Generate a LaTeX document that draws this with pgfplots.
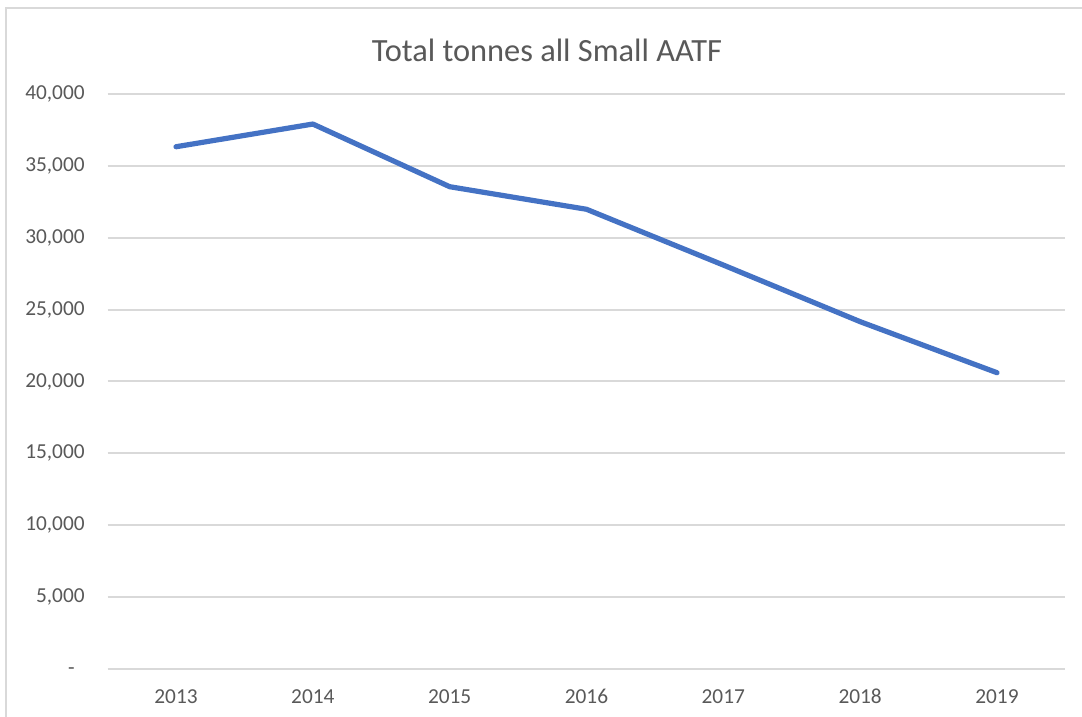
\documentclass[border=0pt]{standalone}
\usepackage{fontspec}
\setmainfont{Carlito}
\usepackage{pgfplots}
\pgfplotsset{compat=1.18}
\definecolor{gridgrey}{RGB}{217,217,217}
\definecolor{labelgrey}{RGB}{89,89,89}
\definecolor{xlblue}{RGB}{68,114,196}
\begin{document}
\begin{tikzpicture}[x=0.75pt,y=0.75pt]
\path[use as bounding box] (0,0) rectangle (1082,717);
\fill[white] (0,0) rectangle (1082,717);
\draw[gridgrey, line width=1.5pt] (6,0) -- (6,709) -- (1082,709);
\node[labelgrey, font=\fontsize{24.3pt}{28pt}\selectfont] at (547,667) {Total tonnes all Small AATF};
\begin{axis}[
  at={(80.7pt,36pt)}, anchor=south west,
  scale only axis,
  width=718.4pt, height=431.25pt,
  xmin=2012.5, xmax=2019.5,
  ymin=0, ymax=40000,
  scaled y ticks=false,
  axis line style={draw=none},
  xtick={2013,...,2019},
  xticklabels={2013,2014,2015,2016,2017,2018,2019},
  ytick={0,5000,...,40000},
  yticklabels={{-\kern7.5pt\strut},{5,000},{10,000},{15,000},{20,000},{25,000},{30,000},{35,000},{40,000}},
  major tick length=0pt,
  ymajorgrids,
  grid style={gridgrey, line width=1.5pt},
  tick label style={labelgrey, font=\fontsize{16pt}{19pt}\selectfont, inner sep=0pt},
  yticklabel style={xshift=-17pt},
  xticklabel style={yshift=-15pt},
  clip=false,
]
\addplot[xlblue, line width=3.9pt, line join=round, line cap=round] coordinates {
  (2013,36330) (2014,37910) (2015,33550) (2016,31980) (2017,28100) (2018,24160) (2019,20610)
};
\end{axis}
\end{tikzpicture}
\end{document}
